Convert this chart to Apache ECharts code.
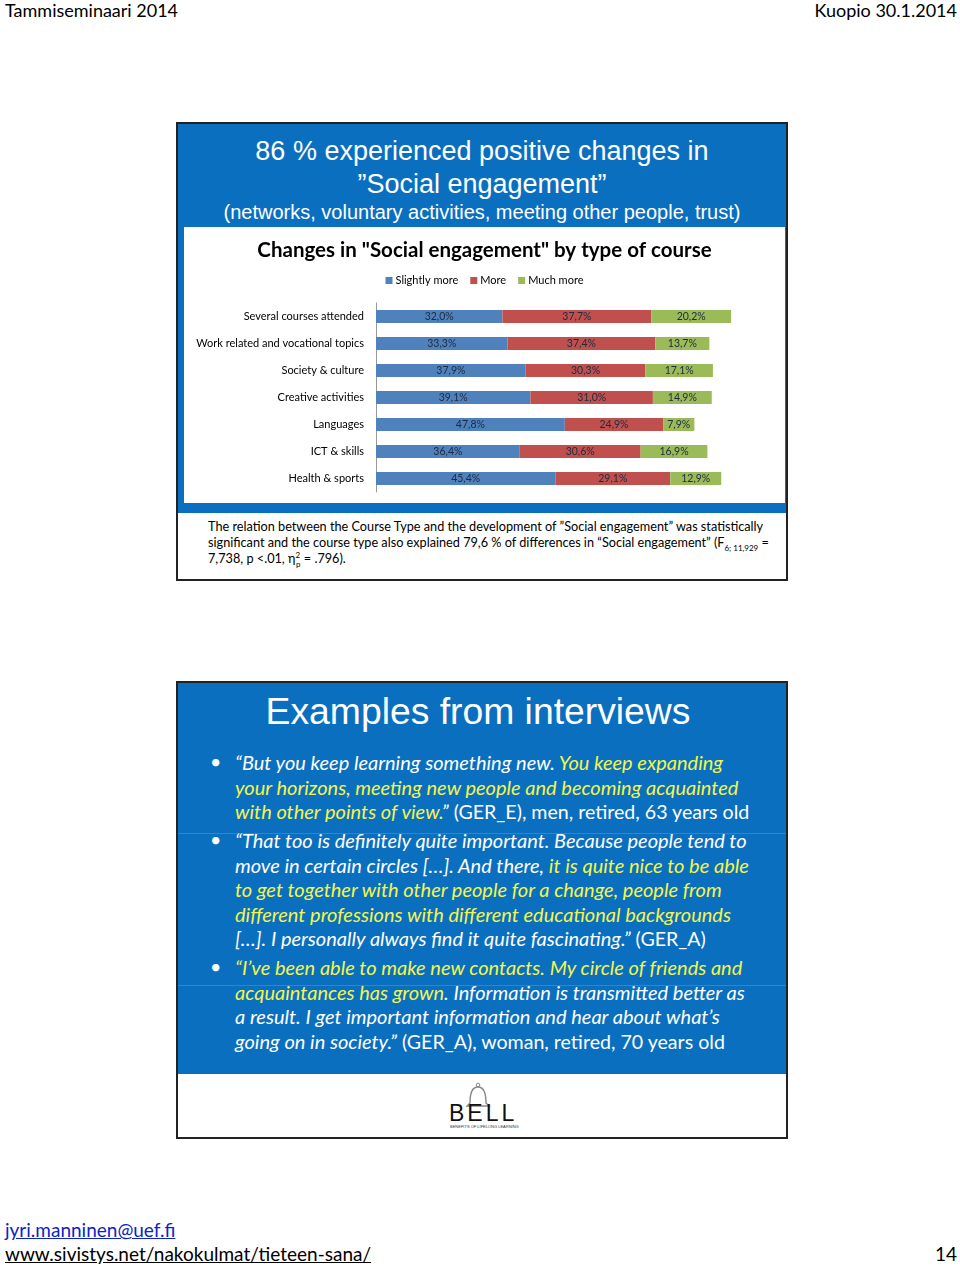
<!DOCTYPE html>
<html>
<head>
<meta charset="utf-8">
<script src="https://cdn.jsdelivr.net/npm/echarts@6/dist/echarts.min.js"></script>
<style>
  html,body{margin:0;padding:0;background:#fff;}
  body{width:960px;height:1266px;position:relative;overflow:hidden;font-family:Lato,"Open Sans",sans-serif;}
  .abs{position:absolute;white-space:nowrap;}
  .box{position:absolute;border:2px solid #222;box-sizing:border-box;background:#fff;}
  .blue{position:absolute;background:#0B6FBF;}
  .hd{color:#fff;font-family:"Liberation Sans",Arial,sans-serif;text-align:center;width:100%;}
  .y{color:#F2F54B;}
  .it{font-style:italic;font-size:20px;}
  .ln{height:24.5px;line-height:24.5px;white-space:nowrap;position:relative;font-size:19.6px;}
  .bul{position:absolute;left:-25px;top:0;font-style:normal;}
  sub,sup{line-height:0;}
</style>
</head>
<body>
<div class="abs" style="left:5px;top:2px;font-size:18px;line-height:17px;color:#000;">Tammiseminaari 2014</div>
<div class="abs" style="right:3px;top:2px;font-size:18px;line-height:17px;color:#000;">Kuopio 30.1.2014</div>

<!-- Slide 1 -->
<div class="box" style="left:176px;top:122px;width:612px;height:459px;">
  <div class="blue" style="left:0;top:0;width:608px;height:389px;"></div>
</div>
<div class="abs hd" style="left:176px;width:612px;top:135px;font-size:27px;line-height:33px;">86 % experienced positive changes in<br>”Social engagement”</div>
<div class="abs hd" style="left:176px;width:612px;top:201px;font-size:20px;">(networks, voluntary activities, meeting other people, trust)</div>
<div id="chart" style="position:absolute;left:184px;top:227px;width:601px;height:276px;background:#fff;"></div>
<div class="abs" style="left:208px;top:518px;font-size:12.7px;line-height:16px;color:#000;">The relation between the Course Type and the development of ”Social engagement” was statistically<br>significant and the course type also explained 79,6 % of differences in “Social engagement” (F<sub style="font-size:8px;">6; 11,929</sub> =<br>7,738, p &lt;.01, η<sup style="font-size:8px;">2</sup><sub style="font-size:8px;margin-left:-4px;">p</sub> = .796).</div>

<!-- Slide 2 -->
<div class="box" style="left:176px;top:681px;width:612px;height:458px;">
  <div class="blue" style="left:0;top:0;width:608px;height:391px;"></div>
  <div style="position:absolute;left:0;top:150px;width:608px;height:1px;background:#2E86CF;"></div>
  <div style="position:absolute;left:0;top:302px;width:608px;height:1px;background:#2E86CF;"></div>
</div>
<div class="abs hd" style="left:176px;width:604px;top:690px;font-size:37.3px;">Examples from interviews</div>
<div class="abs" style="left:235px;top:750px;color:#fff;">
  <div class="ln"><span class="bul">•</span><span class="it">“But you keep learning something new. <span class="y">You keep expanding</span></span></div>
  <div class="ln"><span class="it y">your horizons, meeting new people and becoming acquainted</span></div>
  <div class="ln"><span class="it"><span class="y">with other points of view.</span>”</span> (GER_E), men, retired, 63 years old</div>
  <div style="height:4.5px;"></div>
  <div class="ln"><span class="bul">•</span><span class="it">“That too is definitely quite important. Because people tend to</span></div>
  <div class="ln"><span class="it">move in certain circles […]. And there, <span class="y">it is quite nice to be able</span></span></div>
  <div class="ln"><span class="it y">to get together with other people for a change, people from</span></div>
  <div class="ln"><span class="it y">different professions with different educational backgrounds</span></div>
  <div class="ln"><span class="it">[…]. I personally always find it quite fascinating.”</span> (GER_A)</div>
  <div style="height:4.5px;"></div>
  <div class="ln"><span class="bul">•</span><span class="it"><span class="y">“I’ve been able to make new contacts. My circle of friends and</span></span></div>
  <div class="ln"><span class="it"><span class="y">acquaintances has grown</span>. Information is transmitted better as</span></div>
  <div class="ln"><span class="it">a result. I get important information and hear about what’s</span></div>
  <div class="ln"><span class="it">going on in society.”</span> (GER_A), woman, retired, 70 years old</div>
</div>
<!-- BELL logo -->
<svg style="position:absolute;left:445px;top:1081px;" width="80" height="50" viewBox="0 0 80 50">
  <path d="M25 22 C25 12 27 6 33 6 C39 6 41 12 41 22 L44 25 L22 25 Z" fill="none" stroke="#888" stroke-width="1.4"/>
  <circle cx="33" cy="4" r="1.8" fill="none" stroke="#888" stroke-width="1"/>
  <text x="4" y="40" font-family="Liberation Sans,Arial" font-size="23" fill="#111" letter-spacing="3">BELL</text>
  <text x="5" y="46.5" font-family="Liberation Sans,Arial" font-size="4" fill="#333">BENEFITS OF LIFELONG LEARNING</text>
</svg>

<div class="abs" style="left:5px;top:1218px;font-size:19px;color:#0b24c4;text-decoration:underline;">jyri.manninen@uef.fi</div>
<div class="abs" style="left:5px;top:1242px;font-size:19px;color:#000;text-decoration:underline;">www.sivistys.net/nakokulmat/tieteen-sana/</div>
<div class="abs" style="right:3px;top:1242px;font-size:19px;color:#000;">14</div>

<script>
var categories = ["Several courses attended", "Work related and vocational topics", "Society & culture", "Creative activities", "Languages", "ICT & skills", "Health & sports"];
var seriesNames = ["Slightly more", "More", "Much more"];
var slightlyMore = [32.0, 33.3, 37.9, 39.1, 47.8, 36.4, 45.4];
var more = [37.7, 37.4, 30.3, 31.0, 24.9, 30.6, 29.1];
var muchMore = [20.2, 13.7, 17.1, 14.9, 7.9, 16.9, 12.9];
var colors = ["#4F81BD", "#C0504D", "#9BBB59"];

var chart = echarts.init(document.getElementById('chart'));
function mk(name, data, color) {
  return {
    name: name, type: 'bar', stack: 'total', data: data, barWidth: 13,
    itemStyle: {color: color},
    label: {show: true, position: 'inside', fontSize: 10.5, color: '#1d2a40', fontFamily: 'Lato',
      formatter: function (p) { return p.value.toFixed(1).replace('.', ',') + '%'; }}
  };
}
chart.setOption({
  animation: false,
  title: {text: 'Changes in "Social engagement" by type of course', left: 'center', top: 8,
    textStyle: {fontSize: 20.5, fontWeight: 'bold', color: '#000', fontFamily: 'Lato'}},
  legend: {data: seriesNames, top: 43, left: 'center', icon: 'rect', itemWidth: 7, itemHeight: 7, itemGap: 12,
    textStyle: {fontSize: 11, color: '#000', fontFamily: 'Lato', padding: [0, 0, 0, -2]}},
  grid: {left: 192, top: 76, width: 395, height: 189, containLabel: false},
  xAxis: {type: 'value', min: 0, max: 100, show: false},
  yAxis: {type: 'category', data: categories, inverse: true,
    axisLine: {show: true, lineStyle: {color: '#999'}}, axisTick: {show: false},
    axisLabel: {fontSize: 11, color: '#000', margin: 12, fontFamily: 'Lato'}},
  series: [mk(seriesNames[0], slightlyMore, colors[0]), mk(seriesNames[1], more, colors[1]), mk(seriesNames[2], muchMore, colors[2])]
});
</script>
</body>
</html>
